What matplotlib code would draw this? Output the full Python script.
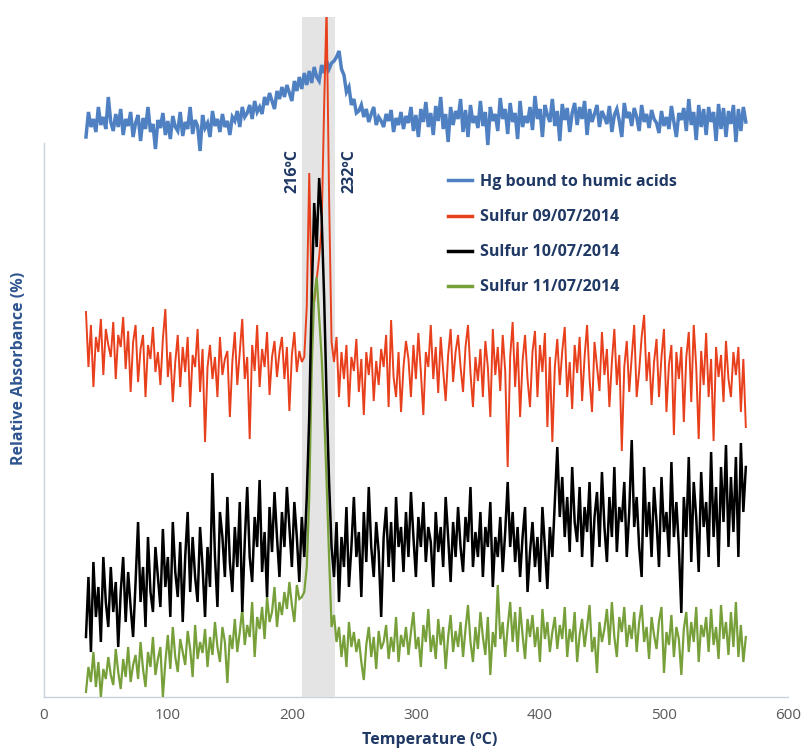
import numpy as np
import matplotlib
matplotlib.use("Agg")
import matplotlib.pyplot as plt

plt.rcParams['font.family'] = ['Open Sans', 'DejaVu Sans']

# Temperature grid (ºC)
temperature = np.arange(34, 567, 2)

# Relative absorbance (arbitrary stacked units)
hg_humic = [
    560, 585, 570, 578, 565, 590, 572, 580, 568, 600,
    575, 566, 583, 570, 588, 562, 578, 571, 585, 560,
    574, 582, 556, 579, 568, 590, 565, 573, 548, 577,
    569, 584, 562, 576, 558, 581, 570, 566, 585, 561,
    575, 568, 590, 563, 577, 571, 546, 582, 569, 574,
    560, 586, 571, 578, 565, 583, 570, 576, 562, 580,
    576, 586, 570, 590, 580, 584, 592, 578, 596, 585,
    590, 583, 600, 592, 604, 596, 588, 606, 598, 610,
    600, 612, 604, 596, 616, 606, 620, 608, 624, 612,
    626, 614, 630, 620, 616, 632, 624, 636, 628, 634,
    636, 640, 646, 628, 622, 605, 610, 592, 598, 584,
    586, 592, 580, 588, 575, 583, 590, 572, 580, 576,
    570, 583, 576, 587, 565, 579, 572, 585, 568, 581,
    574, 590, 566, 582, 560, 588, 575, 595, 570, 584,
    562, 591, 576, 600, 568, 583, 555, 590, 572, 586,
    578, 598, 565, 587, 560, 592, 574, 581, 569, 596,
    571, 585, 552, 590, 576, 583, 566, 599, 578, 588,
    563, 594, 575, 584, 558, 596, 570, 581, 574, 590,
    567, 601, 578, 588, 560, 592, 582, 575, 598, 571,
    586, 556, 593, 577, 589, 565, 584, 594, 572, 590,
    578, 596, 562, 588, 575, 583, 592, 570, 586, 580,
    573, 591, 565, 582, 588, 576, 560, 594, 579, 585,
    571, 589, 580, 566, 592, 575, 583, 569, 587, 578,
    574, 564, 586, 571, 580, 568, 591, 575, 560, 584,
    577, 589, 566, 598, 572, 585, 557, 592, 570, 588,
    562, 590, 575, 585, 556, 593, 568, 589, 560, 586,
    573, 592, 555, 588, 566, 590, 575,
]

sulfur_0907 = [
    385, 330, 372, 310, 360, 345, 378, 322, 368, 352,
    340, 375, 318, 362, 350, 380, 328, 366, 305, 355,
    372, 315, 348, 362, 300, 352, 338, 370, 325, 345,
    312, 358, 388, 320, 345, 295, 335, 362, 310, 350,
    325, 360, 290, 342, 330, 368, 305, 348, 255, 330,
    352, 318, 340, 300, 360, 322, 338, 346, 280, 335,
    365, 312, 345, 378, 318, 340, 258, 352, 326, 372,
    310, 348, 330, 365, 302, 340, 356, 320, 345, 360,
    318, 350, 286, 342, 365, 325, 346, 335, 340, 390,
    524, 400, 395, 418, 440, 470, 590, 690, 500, 355,
    335, 360, 300, 345, 318, 352, 290, 340, 326, 358,
    305, 338, 282, 345, 322, 350, 296, 336, 312, 348,
    330, 362, 290, 377, 320, 300, 345, 285, 330, 356,
    338, 300, 352, 318, 364, 325, 282, 345, 330, 372,
    318, 350, 304, 360, 326, 296, 342, 368, 315, 345,
    362, 330, 305, 350, 372, 324, 290, 340, 316, 348,
    300, 356, 330, 280, 368, 322, 350, 306, 362, 326,
    230, 340, 375, 310, 355, 280, 336, 362, 318, 290,
    345, 366, 300, 352, 325, 364, 270, 340, 255, 330,
    358, 312, 346, 370, 300, 335, 288, 352, 324, 360,
    296, 340, 372, 318, 285, 355, 330, 306, 365, 322,
    348, 290, 335, 368, 312, 342, 246, 330, 356, 305,
    340, 372, 300, 326, 360, 382, 316, 345, 292, 335,
    358, 300, 340, 368, 285, 332, 352, 262, 345, 318,
    350, 275, 340, 365, 295, 372, 330, 258, 346, 312,
    364, 300, 338, 256, 350, 320, 342, 295, 356, 318,
    300, 345, 322, 350, 285, 338, 270,
]

sulfur_1007 = [
    60, 120, 45, 135, 80, 110, 55, 140, 95, 70,
    130, 85, 115, 50, 105, 140, 75, 125, 90, 60,
    115, 175, 95, 130, 70, 160, 105, 85, 150, 120,
    90, 168, 110, 140, 80, 175, 125, 100, 155, 75,
    140, 185, 105, 160, 120, 95, 170, 130, 80, 150,
    110, 224, 140, 90, 185, 160, 120, 200, 135, 105,
    170, 130, 195, 85, 155, 210, 140, 115, 180, 150,
    217, 125, 165, 100, 190, 145, 205, 160, 120, 185,
    150, 210, 170, 130, 195, 160, 115, 180, 140, 200,
    280, 400, 494, 450, 519, 480, 400, 300, 215, 150,
    120, 175, 95, 160, 130, 190, 110, 150, 200, 140,
    165, 100, 185, 135, 210, 150, 120, 175, 145, 80,
    160, 190, 130, 175, 115, 200, 150, 170, 125, 185,
    140, 205, 160, 120, 180, 150, 195, 135, 170, 155,
    110, 185, 145, 170, 130, 200, 160, 115, 175, 140,
    190, 150, 125, 180, 155, 210, 130, 165, 140, 185,
    120, 170, 150, 195, 110, 160, 140, 180, 125, 165,
    215, 150, 185, 135, 170, 120, 160, 190, 105, 145,
    175, 130, 160, 115, 190, 150, 108, 170, 140, 195,
    250, 180, 220, 160, 200, 145, 230, 175, 155, 210,
    140, 190, 165, 215, 130, 180, 205, 150, 225, 170,
    135, 200, 160, 230, 145, 190, 175, 215, 140, 185,
    257, 170, 200, 150, 120, 230, 160, 195, 140, 210,
    175, 130, 220, 165, 185, 140, 235, 160, 195, 150,
    84, 200, 160, 240, 135, 215, 180, 125, 225, 170,
    195, 140, 245, 160, 210, 130, 230, 175, 252, 150,
    220, 165, 240, 140, 254, 185, 230,
]

sulfur_1107 = [
    5, 30, 15, 45, 10, 35, 0, 28, 18, 40,
    22, 12, 48, 25, 8, 38, 20, 50, 15, 32,
    42, 18, 55, 28, 10, 45, 30, 60, 22, 38,
    50, 0, 35, 62, 28, 70, 40, 25, 58, 45,
    32, 66, 48, 20, 72, 38, 55, 44, 68, 30,
    60, 42, 75, 50, 35, 70, 55, 14, 62, 48,
    78, 45, 65, 88, 52, 72, 60, 95, 40, 80,
    68, 90, 58, 100, 75, 85, 110, 70, 95, 82,
    105, 88, 115, 92, 75, 112, 98, 100, 105, 130,
    200, 330, 400, 420, 380, 340, 285, 215, 140, 70,
    82, 55, 70, 40, 62, 30, 75, 50, 65, 45,
    58, 35, 17, 52, 70, 40, 60, 28, 66, 48,
    55, 72, 38, 60, 45, 80, 35, 62, 50, 70,
    42, 65, 85, 48, 60, 30, 72, 55, 88, 45,
    62, 38, 78, 52, 70, 28, 60, 82, 45, 66,
    50, 75, 40, 68, 92, 55, 35, 70, 48, 85,
    60, 42, 80, 22, 65, 50, 112, 58, 75, 40,
    70, 95, 55, 85, 45, 90, 62, 38, 78, 60,
    82, 50, 70, 35, 88, 58, 75, 45, 65, 80,
    48, 72, 58, 90, 40, 68, 55, 85, 35, 62,
    78, 50, 70, 92, 45, 60, 24, 75, 55, 68,
    88, 52, 95, 60, 40, 80, 65, 90, 50, 72,
    58, 85, 45, 75, 92, 55, 70, 38, 80, 62,
    48, 76, 90, 24, 65, 52, 82, 40, 70, 58,
    22, 68, 85, 45, 75, 55, 90, 35, 72, 60,
    80, 45, 88, 52, 70, 38, 92, 58, 75, 42,
    85, 50, 95, 40, 72, 35, 60,
]

series_labels = ["Hg bound to humic acids", "Sulfur 09/07/2014",
                 "Sulfur 10/07/2014", "Sulfur 11/07/2014"]
series_colors = ["#4f81c2", "#e8401c", "#000000", "#77a03a"]
band_range = [208, 235]
band_labels = ["216ºC", "232ºC"]
x_ticks = [0, 100, 200, 300, 400, 500, 600]

navy = "#1f3864"

fig = plt.figure(figsize=(8.01, 7.49), dpi=100)
ax = fig.add_axes([43.8 / 801, 52 / 749, (788 - 43.8) / 801, 680 / 749])

ax.axvspan(band_range[0], band_range[1], color="#e4e4e4", zorder=3, lw=0)

widths = [2.5, 1.4, 1.8, 1.6]
zorders = [4, 5, 7, 6]
for vals, lab, col, lw, z in zip([hg_humic, sulfur_0907, sulfur_1007, sulfur_1107],
                                 series_labels, series_colors, widths, zorders):
    ax.plot(temperature, vals, color=col, lw=lw, label=lab, zorder=z,
            solid_joinstyle="miter")

ax.set_xlim(0, 600)
ax.set_ylim(0, 680)
ax.set_xticks(x_ticks)
ax.set_yticks([])
ax.tick_params(axis="x", length=0, pad=8, labelsize=11, labelcolor="#595959")

for s in ["top", "right"]:
    ax.spines[s].set_visible(False)
ax.spines["left"].set_bounds(0, 554)
for s in ["left", "bottom"]:
    ax.spines[s].set_color("#c8d1dc")
    ax.spines[s].set_linewidth(1.0)

ax.text(200.5, 526, band_labels[0], rotation=90, ha="center", va="center",
        fontsize=11.5, fontweight="bold", color=navy, zorder=8)
ax.text(246.4, 526, band_labels[1], rotation=90, ha="center", va="center",
        fontsize=11.5, fontweight="bold", color=navy, zorder=8)

fig.text(430 / 801, 1 - 740 / 749, "Temperature (ºC)", ha="center", va="center",
         fontsize=11.5, fontweight="bold", color=navy)
fig.text(19 / 801, 1 - 368 / 749, "Relative Absorbance (%)", ha="center", va="center",
         rotation=90, fontsize=11.5, fontweight="bold", color="#2f5591")

handles, labels = ax.get_legend_handles_labels()
leg = fig.legend(handles, labels, loc="upper left",
                 bbox_to_anchor=(440 / 801, 1 - 166 / 749),
                 frameon=False, prop={"weight": "bold", "size": 11.5},
                 handlelength=1.5, handletextpad=0.5, labelspacing=1.2,
                 borderpad=0)
for t in leg.get_texts():
    t.set_color(navy)
for h in leg.get_lines():
    h.set_linewidth(2.5)

fig.savefig("out.png", dpi=100)
